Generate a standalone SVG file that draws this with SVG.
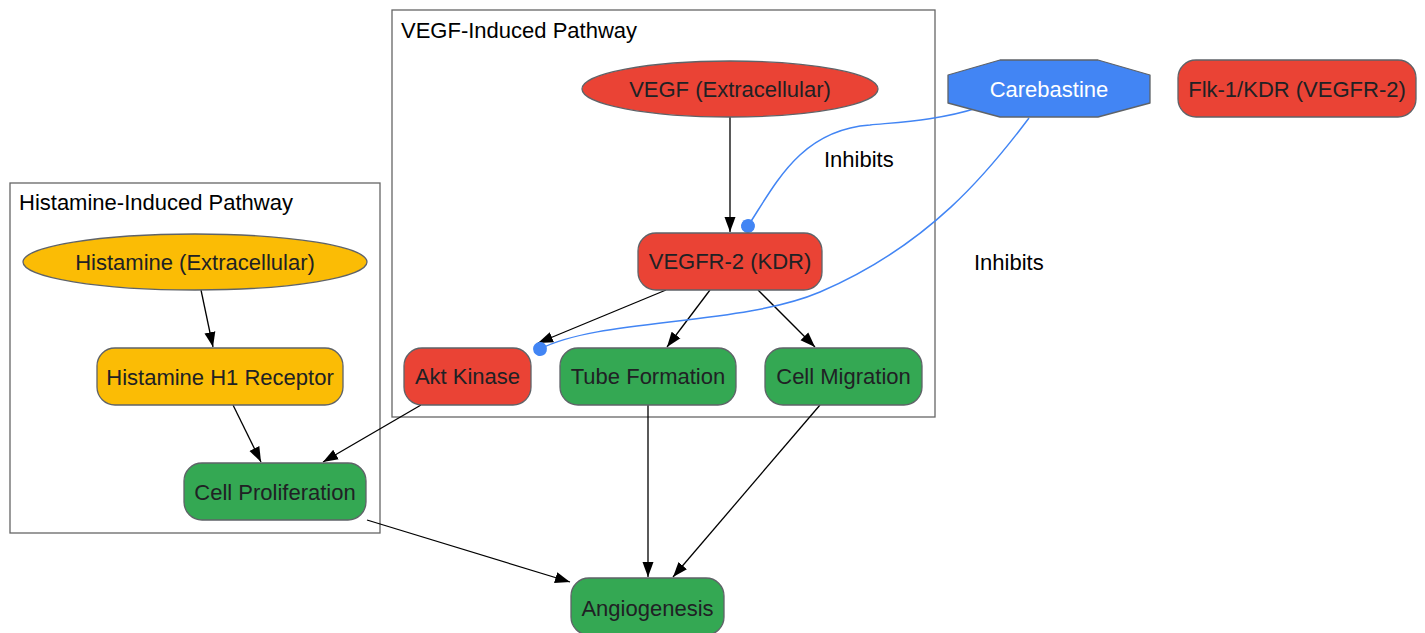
<svg xmlns="http://www.w3.org/2000/svg" width="1425" height="633" viewBox="0 0 1425 633">
<defs>
<marker id="arr" markerUnits="userSpaceOnUse" markerWidth="16" markerHeight="16" viewBox="0 0 16 16" refX="15" refY="8" orient="auto"><path d="M0,2.5 L15,8 L0,13.5 Z" fill="#000"/></marker>
<marker id="dot" markerUnits="userSpaceOnUse" markerWidth="16" markerHeight="16" viewBox="0 0 16 16" refX="8" refY="8" orient="auto"><circle cx="8" cy="8" r="7" fill="#4285F4"/></marker>
</defs>
<style>
.cl{fill:none;stroke:#666;stroke-width:1.3}
.cll{font-family:"Liberation Sans",Arial,sans-serif;font-size:22px;fill:#000}
.n{stroke:#5f6368;stroke-width:1.3;stroke-linejoin:round}
.t{font-family:"Liberation Sans",Arial,sans-serif;font-size:22px;fill:#202124;text-anchor:middle}
.red{fill:#EA4335}.yel{fill:#FBBC05}.grn{fill:#34A853}.blu{fill:#4285F4}
.e{fill:none;stroke:#000;stroke-width:1.3;marker-end:url(#arr)}
.inh{fill:none;stroke:#4285F4;stroke-width:1.5;marker-end:url(#dot)}
.el{font-family:"Liberation Sans",Arial,sans-serif;font-size:22px;fill:#000}
</style>
<rect width="1425" height="633" fill="#fff"/>
<g id="cluster_vegf"><rect class="cl" x="392" y="10" width="543" height="407"/><text class="cll" x="401" y="38">VEGF-Induced Pathway</text></g>
<g id="cluster_hist"><rect class="cl" x="10" y="183" width="370" height="350"/><text class="cll" x="19" y="210">Histamine-Induced Pathway</text></g>
<g id="edges">
<path class="e" d="M730,117 L730,232"/>
<path class="e" d="M666,290 L538,343"/>
<path class="e" d="M710,290 L667,347"/>
<path class="e" d="M758,290 L815,347"/>
<path class="e" d="M201,290 L213,347"/>
<path class="e" d="M233,405 L261,462"/>
<path class="e" d="M421,405 L323,462"/>
<path class="e" d="M367,520 L570,582"/>
<path class="e" d="M648,405 L648,577"/>
<path class="e" d="M820,405 L673,577"/>
<path class="inh" d="M977,108 C940,120 900,122 870,125 C800,130 775,185 748,226"/>
<path class="inh" d="M1029,118 C990,170 930,245 820,292 C740,326 600,318 540,349"/>
<text class="el" x="824" y="167">Inhibits</text>
<text class="el" x="974" y="270">Inhibits</text>
</g>
<g id="vegf"><ellipse class="n red" cx="730" cy="89" rx="148" ry="28"/><text class="t" x="730" y="97">VEGF (Extracellular)</text></g>
<g id="carebastine"><polygon class="n blu" points="948,75 1000,60 1098,60 1150,75 1150,103 1098,117 1000,117 948,103"/><text class="t" x="1049" y="97" style="fill:#fff">Carebastine</text></g>
<g id="flk1"><rect class="n red" x="1178" y="60" width="238" height="57" rx="18"/><text class="t" x="1297" y="97">Flk-1/KDR (VEGFR-2)</text></g>
<g id="vegfr2"><rect class="n red" x="638" y="233" width="184" height="57" rx="18"/><text class="t" x="730" y="269">VEGFR-2 (KDR)</text></g>
<g id="akt"><rect class="n red" x="404" y="348" width="127" height="57" rx="18"/><text class="t" x="467.5" y="384">Akt Kinase</text></g>
<g id="tube"><rect class="n grn" x="560" y="348" width="176" height="57" rx="18"/><text class="t" x="648" y="384">Tube Formation</text></g>
<g id="migration"><rect class="n grn" x="765" y="348" width="157" height="57" rx="18"/><text class="t" x="843.5" y="384">Cell Migration</text></g>
<g id="histamine"><ellipse class="n yel" cx="195" cy="262" rx="172" ry="28"/><text class="t" x="195" y="270">Histamine (Extracellular)</text></g>
<g id="h1"><rect class="n yel" x="97" y="348" width="246" height="57" rx="18"/><text class="t" x="220" y="385">Histamine H1 Receptor</text></g>
<g id="prolif"><rect class="n grn" x="184" y="463" width="182" height="57" rx="18"/><text class="t" x="275" y="500">Cell Proliferation</text></g>
<g id="angio"><rect class="n grn" x="571" y="578" width="153" height="57" rx="18"/><text class="t" x="647.5" y="616">Angiogenesis</text></g>
</svg>
